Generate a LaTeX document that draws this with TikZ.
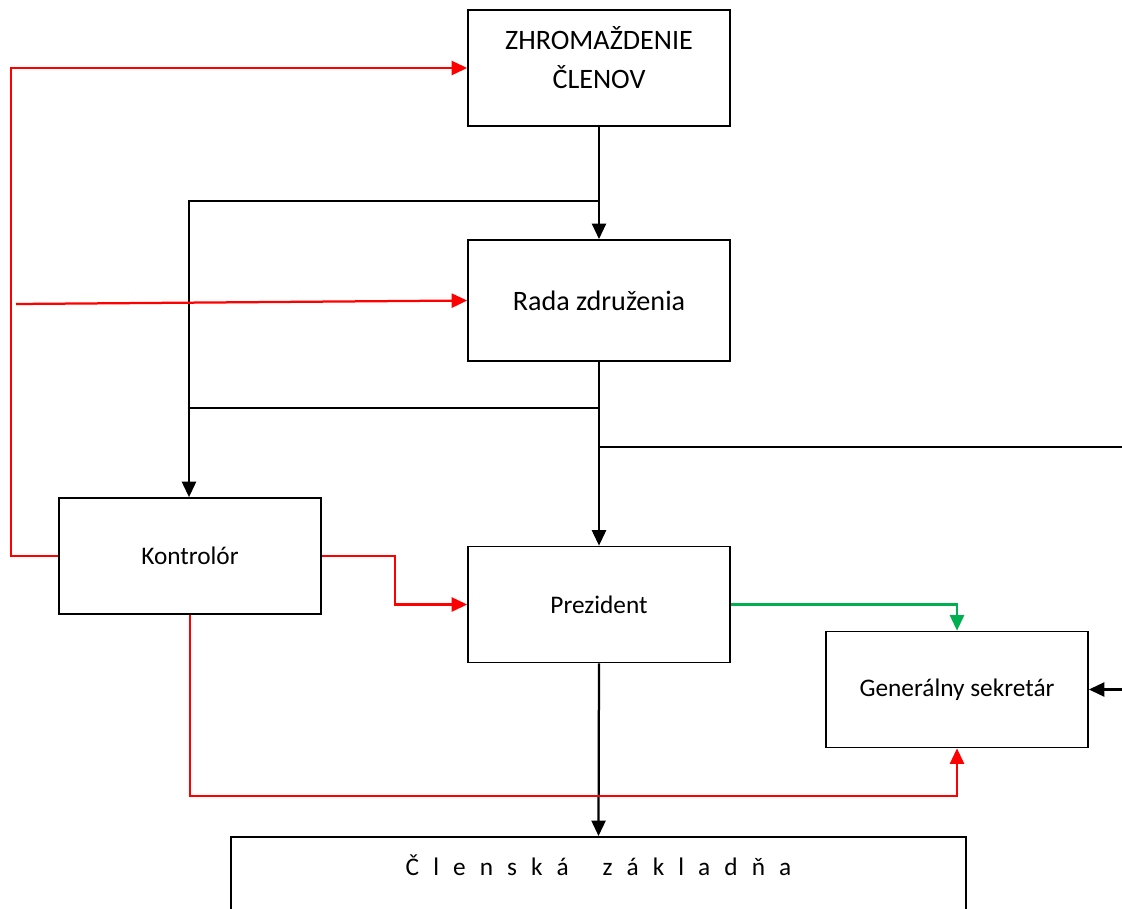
\documentclass[tikz,border=0pt]{standalone}
\usepackage{fontspec}
\setmainfont{Carlito}
\usetikzlibrary{arrows.meta}
\definecolor{linkgreen}{RGB}{0,176,80}

\begin{document}
\begin{tikzpicture} [
    x=0.025cm, y=-0.025cm,
    font=\fontsize{18}{22}\selectfont,
    block/.style = { rectangle, draw, line width=1.2pt, align=center,
                     minimum width=6.55cm, minimum height=2.9cm },
    big/.style   = { font=\fontsize{20}{24}\selectfont },
    line/.style  = { draw, line width=1.6pt,
                     -{Triangle[length=11pt,width=10pt]} },
    plain/.style = { draw, line width=1.6pt },
  ]
  \useasboundingbox (0,0) rectangle (1122,908);
  \clip (0,0) rectangle (1122,908);

  % boxes
  \node [block, big] (zhrom) at (599,68)
        {ZHROMAŽDENIE\\[4pt]ČLENOV\\[-9pt]\mbox{}};
  \node [block, big, minimum height=3.03cm] (rada) at (599,300.5) {Rada združenia};
  \node [block] (kontrolor) at (190,556)   {Kontrolór};
  \node [block] (prezident) at (599,604.5) {Prezident};
  \node [block] (gensek)    at (957,689.5) {Generálny sekretár};
  \node [block, anchor=north, minimum width=18.375cm, minimum height=3cm,
         label={[anchor=center, yshift=-0.725cm]north:{\spaceskip=10pt
           Č l e n s k á\hspace{24pt}z á k l a d ň a}}]
        (clenska) at (598.5,836) {};

  % free ends of connectors
  \coordinate (redstart)  at (16,304);
  \coordinate (redleft)   at (11,556);
  \coordinate (topleft)   at (189,201);
  \coordinate (midleft)   at (189,408);
  \coordinate (rightend)  at (1122,447);
  \coordinate (gsright)   at (1122,689.5);
  \coordinate (kpbend)    at (395,580);
  \coordinate (redbottom) at (189,796);

  % black connectors
  \path [line]  (zhrom.south) -- (rada.north);
  \path [line]  (rada.north |- topleft) -- (topleft) -- (topleft |- kontrolor.north);
  \path [line]  (rada.south) -- (prezident.north);
  \path [plain] (midleft) -- (rada.south |- midleft);
  \path [plain] (prezident.north |- rightend) -- (rightend);
  \path [line]  (gsright) -- (gensek.east);
  \path [line]  (prezident.south) -- (clenska.north);

  % red connectors
  \path [line, red] (kontrolor.west) -- (redleft) |- (zhrom.west);
  \path [line, red] (redstart) -- (rada.west);
  \path [line, red] (kontrolor.east) -| (kpbend) |- (prezident.west);
  \path [line, red] (kontrolor.south) -- (kontrolor.south |- redbottom)
                    -| (gensek.south);

  % green connector
  \path [line, linkgreen] (prezident.east) -| (gensek.north);
\end{tikzpicture}
\end{document}
